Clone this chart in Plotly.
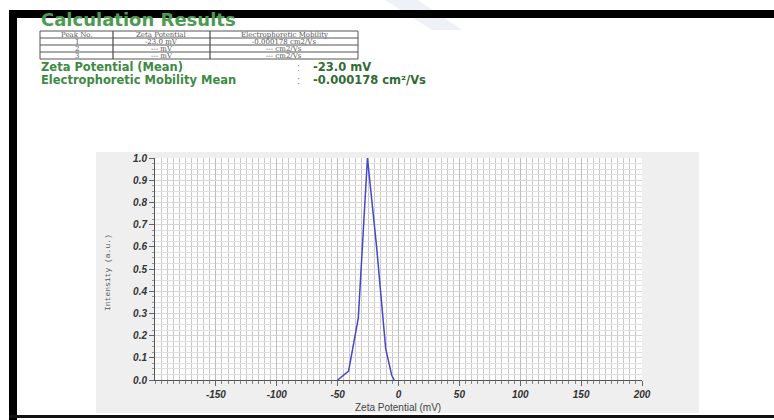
import plotly.graph_objects as go

# Zeta potential distribution (mV) and normalised intensity
zeta_mv = [-50, -41, -33, -25.5, -18, -10.5, -5.5, -3.5]
intensity = [0.0, 0.04, 0.28, 1.0, 0.6, 0.14, 0.02, 0.0]

x_ticks = [-150, -100, -50, 0, 50, 100, 150, 200]
y_ticks = [0.0, 0.1, 0.2, 0.3, 0.4, 0.5, 0.6, 0.7, 0.8, 0.9, 1.0]

table_header = ["Peak No.", "Zeta Potential", "Electrophoretic Mobility"]
table_rows = [
    ["1", "-23.0 mV", "-0.000178 cm2/Vs"],
    ["2", "--- mV", "--- cm2/Vs"],
    ["3", "--- mV", "--- cm2/Vs"],
]
summary = [
    ("Zeta Potential (Mean)", "-23.0 mV"),
    ("Electrophoretic Mobility Mean", "-0.000178 cm\u00b2/Vs"),
]

W, H = 774, 420
L, R, T, B = 155, 642, 158, 380


def px(x):
    return (x - L) / (R - L)


def py(y):
    return (B - y) / (B - T)


def rect(x0, y0, x1, y1, fill, layer="above"):
    return dict(type="rect", xref="paper", yref="paper", layer=layer,
                x0=px(x0), x1=px(x1), y0=py(y1), y1=py(y0),
                fillcolor=fill, line=dict(color=fill, width=0))


def hline(x0, x1, y, color, width=1):
    return dict(type="line", xref="paper", yref="paper",
                x0=px(x0), x1=px(x1), y0=py(y), y1=py(y),
                line=dict(color=color, width=width))


def vline(x, y0, y1, color, width=1):
    return dict(type="line", xref="paper", yref="paper",
                x0=px(x), x1=px(x), y0=py(y0), y1=py(y1),
                line=dict(color=color, width=width))


def label(text, x, y, size, color, family="Arial", weight="normal",
          xanchor="left", yanchor="middle", angle=0, style="normal"):
    return dict(text=text, xref="paper", yref="paper", x=px(x), y=py(y),
                xanchor=xanchor, yanchor=yanchor, showarrow=False,
                textangle=angle, borderpad=0,
                font=dict(family=family, size=size, color=color,
                          weight=weight, style=style))


fig = go.Figure()
fig.add_trace(go.Scatter(
    x=zeta_mv, y=intensity, mode="lines",
    line=dict(color="#4646c8", width=1.5),
    hoverinfo="skip", showlegend=False,
))

shapes = []
# faint watermark stroke near the top
shapes.append(dict(type="path", xref="paper", yref="paper", layer="below",
                   path="M {} {} L {} {} L {} {} L {} {} Z".format(
                       px(385), py(0), px(418), py(0),
                       px(462), py(30), px(432), py(30)),
                   fillcolor="#eef1f5", line=dict(width=0)))
# chart panel and plot area
shapes.append(rect(96, 152, 699, 413, "#efefef", layer="below"))
shapes.append(rect(L, T, R, B, "#ffffff", layer="below"))
# page frame
shapes.append(rect(9, 10, 774, 18, "#000000"))
shapes.append(rect(9, 10, 17, 420, "#000000"))
shapes.append(rect(9, 415, 774, 418, "#111111"))

# results table
tx0, tx1 = 40, 358
row_y = [31, 38, 45, 52, 59]
col_x = [40, 113, 210, 358]
tcol = "#555555"
shapes.append(dict(type="rect", xref="paper", yref="paper",
                   x0=px(tx0), x1=px(tx1), y0=py(row_y[-1]), y1=py(row_y[0]),
                   line=dict(color=tcol, width=1), fillcolor="rgba(0,0,0,0)"))
for yy in row_y[1:-1]:
    shapes.append(hline(tx0, tx1, yy, tcol, 1))
for xx in col_x[1:-1]:
    shapes.append(vline(xx, row_y[0], row_y[-1], tcol, 1.3))

annotations = []
annotations.append(label("Calculation Results", 40, 31, 18, "#4e9a52",
                         family="DejaVu Sans", weight="bold",
                         yanchor="bottom"))
for r, cells in enumerate([table_header] + table_rows):
    yc = (row_y[r] + row_y[r + 1]) / 2
    for c, txt in enumerate(cells):
        xc = (col_x[c] + col_x[c + 1]) / 2
        annotations.append(label(txt, xc, yc + 0.3, 7, "#555555",
                                 family="DejaVu Serif", xanchor="center"))
for i, (name, val) in enumerate(summary):
    yc = 67 + 13 * i
    annotations.append(label(name, 40, yc, 11.5, "#3d8a43",
                             family="DejaVu Sans", weight="bold"))
    annotations.append(label(":", 298, yc, 11, "#888888", xanchor="center"))
    annotations.append(label(val, 312, yc, 11.5, "#2f6b34",
                             family="DejaVu Sans", weight="bold"))

# axis titles
annotations.append(label("Intensity (a.u.)", 107, 273, 8, "#555555",
                         family="Liberation Mono", xanchor="center",
                         angle=-90))
annotations.append(label("Zeta Potential (mV)", 398, 407, 10, "#444444",
                         xanchor="center"))

tick_font = dict(family="Arial", size=10, color="#333333",
                 weight="bold", style="italic")

fig.update_layout(
    width=W, height=H,
    margin=dict(l=L, r=W - R, t=T, b=H - B, pad=0),
    paper_bgcolor="#ffffff", plot_bgcolor="#ffffff",
    shapes=shapes, annotations=annotations,
    xaxis=dict(
        range=[-200, 200], tickvals=x_ticks,
        ticktext=[str(v) for v in x_ticks],
        ticks="outside", ticklen=5, tickcolor="#666666",
        showgrid=True, gridcolor="#bdbdbd", gridwidth=1,
        showline=True, linecolor="#555555", linewidth=1,
        zeroline=False, tickfont=tick_font,
        minor=dict(dtick=5, tick0=0, ticks="outside", ticklen=3,
                   tickcolor="#888888", showgrid=True,
                   gridcolor="#c8c8c8", gridwidth=1),
        fixedrange=True,
    ),
    yaxis=dict(
        range=[0, 1.0], tickvals=y_ticks,
        ticktext=["{:.1f}".format(v) for v in y_ticks],
        ticks="outside", ticklen=5, tickcolor="#666666",
        showgrid=True, gridcolor="#d6d6d6", gridwidth=1,
        showline=True, linecolor="#555555", linewidth=1,
        zeroline=False, tickfont=tick_font,
        minor=dict(dtick=0.025, tick0=0, ticks="outside", ticklen=2,
                   tickcolor="#999999", showgrid=True,
                   gridcolor="#e0e0e0", gridwidth=1),
        fixedrange=True,
    ),
)

fig.write_html("out.html")
